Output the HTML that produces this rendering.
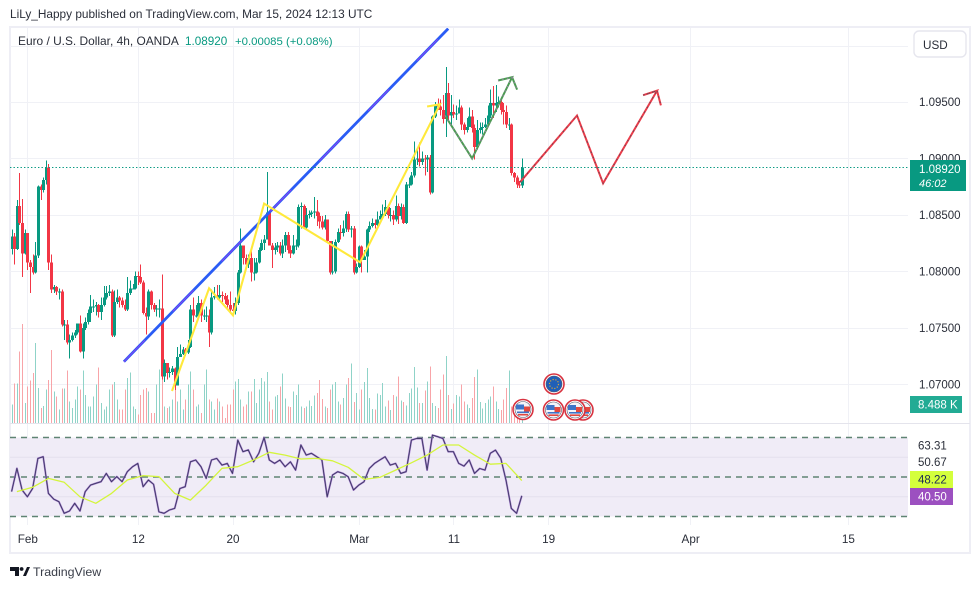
<!DOCTYPE html>
<html>
<head>
<meta charset="utf-8">
<title>EUR/USD chart</title>
<style>
html,body{margin:0;padding:0;background:#fff;}
svg{display:block;}
text{font-family:"Liberation Sans",sans-serif;}
</style>
</head>
<body>
<svg id="chart" xmlns="http://www.w3.org/2000/svg" width="980" height="589" viewBox="0 0 980 589">
  <defs>
    <clipPath id="pane"><rect x="10" y="28" width="898" height="396"/></clipPath>
    <g id="us-flag">
      <circle r="10" fill="#fff" stroke="#d8323f" stroke-width="1.6"/>
      <circle r="8" fill="#f4f4f8" stroke="#556" stroke-width="0.6"/>
      <rect x="-7" y="-5" width="8" height="5" fill="#3d74c8"/>
      <rect x="1" y="-3" width="6" height="5" fill="#e2483f"/>
      <rect x="-6" y="2" width="12" height="1.6" fill="#3d74c8"/>
      <rect x="-5" y="4.4" width="10" height="1.6" fill="#e2483f"/>
    </g>
    <g id="eu-flag">
      <circle r="10" fill="#fff" stroke="#d8323f" stroke-width="1.6"/>
      <circle r="8" fill="#1f5fb8" stroke="#556" stroke-width="0.6"/>
      <circle r="4.5" fill="none" stroke="#d9a53a" stroke-width="1.2" stroke-dasharray="1.2 1.6"/>
    </g>
  </defs>

  <text x="10" y="18" font-size="11.83" fill="#2a2e39">LiLy_Happy published on TradingView.com, Mar 15, 2024 12:13 UTC</text>

  <rect x="10" y="27" width="960" height="526" fill="#fff" stroke="#eeeef5" stroke-width="2"/>

  <g id="grid"></g>
  <line x1="10" y1="423.5" x2="970" y2="423.5" stroke="#e4e4ec" stroke-width="1"/>

  <g id="volumes" shape-rendering="crispEdges"></g>
  <g id="candles" shape-rendering="crispEdges"></g>
  <g id="drawings" clip-path="url(#pane)"></g>
  <line id="last-price-line" stroke="#089981" stroke-width="1" stroke-dasharray="1.4 2.1"/>

  <g>
    <use href="#us-flag" transform="translate(523,409.5)"/>
    <use href="#eu-flag" transform="translate(554,384)"/>
    <use href="#us-flag" transform="translate(583,410)"/>
    <use href="#us-flag" transform="translate(553.5,410)"/>
    <use href="#us-flag" transform="translate(575,410)"/>
  </g>

  <g id="rsi-pane"></g>

  <g id="price-axis"></g>
  <g id="time-axis"></g>

  <g>
    <text x="18" y="45" font-size="11.92" fill="#2a2e39">Euro / U.S. Dollar, 4h, OANDA</text>
    <text x="185" y="45" font-size="11.7" fill="#089981">1.08920</text>
    <text x="235" y="45" font-size="11.4" fill="#089981">+0.00085 (+0.08%)</text>
  </g>

  <g>
    <rect x="914" y="31" width="52" height="26" rx="5" fill="#fff" stroke="#e6e6ee" stroke-width="1.4"/>
    <text x="923" y="49" font-size="11.7" fill="#2a2e39">USD</text>
  </g>

  <g>
    <rect x="910" y="160" width="56" height="31" fill="#089981"/>
    <text x="919" y="173" font-size="11.5" fill="#fff">1.08920</text>
    <text x="919" y="187" font-size="11" font-style="italic" fill="#fff">46:02</text>
  </g>
  <g>
    <rect x="910" y="396" width="52" height="17" fill="#22ab94"/>
    <text x="918" y="408.5" font-size="11.5" fill="#fff">8.488 K</text>
  </g>
  <g>
    <text x="918" y="449.5" font-size="11.5" fill="#2a2e39">63.31</text>
    <text x="918" y="466" font-size="11.5" fill="#2a2e39">50.67</text>
    <rect x="910" y="471" width="43" height="17" fill="#d4ff3c"/>
    <text x="918" y="483.5" font-size="11.5" fill="#1a2a55">48.22</text>
    <rect x="910" y="488" width="43" height="17" fill="#9c50c0"/>
    <text x="918" y="500.5" font-size="11.5" fill="#fff">40.50</text>
  </g>

  <g>
    <path d="M10 567h9v9h-4v-5h-5z M23 576l4-9h3l-4 9z" fill="#131722"/>
    <circle cx="21.6" cy="569" r="1.9" fill="#131722"/>
    <text x="33" y="576" font-size="12.4" fill="#3a3e49">TradingView</text>
  </g>
</svg>

<script>
var closes = [1.0831,1.0820,1.0858,1.0843,1.0816,1.0834,1.0808,1.0804,1.0799,1.0814,1.0875,1.0872,1.0881,1.0892,1.0808,1.0784,1.0786,1.0782,1.0782,1.0753,
1.0753,1.0737,1.0739,1.0743,1.0746,1.0754,1.0729,1.0750,1.0755,1.0763,1.0769,1.0769,1.0770,1.0764,1.0770,1.0777,1.0781,1.0782,1.0743,1.0773,
1.0777,1.0774,1.0770,1.0766,1.0781,1.0785,1.0785,1.0796,1.0795,1.0790,1.0763,1.0760,1.0782,1.0770,1.0766,1.0767,1.0767,1.0707,1.0719,1.0710,
1.0711,1.0714,1.0699,1.0724,1.0727,1.0731,1.0728,1.0733,1.0766,1.0761,1.0761,1.0772,1.0761,1.0761,1.0761,1.0746,1.0777,1.0778,1.0777,1.0779,
1.0778,1.0775,1.0770,1.0766,1.0765,1.0772,1.0799,1.0823,1.0812,1.0806,1.0812,1.0799,1.0799,1.0808,1.0819,1.0825,1.0828,1.0852,1.0823,1.0819,
1.0821,1.0823,1.0816,1.0823,1.0832,1.0819,1.0816,1.0823,1.0823,1.0857,1.0858,1.0839,1.0850,1.0851,1.0852,1.0853,1.0849,1.0844,1.0839,1.0846,
1.0827,1.0799,1.0800,1.0826,1.0835,1.0834,1.0838,1.0851,1.0837,1.0838,1.0799,1.0804,1.0822,1.0810,1.0813,1.0837,1.0840,1.0843,1.0841,1.0846,
1.0849,1.0851,1.0857,1.0850,1.0850,1.0846,1.0858,1.0849,1.0857,1.0843,1.0877,1.0877,1.0885,1.0899,1.0900,1.0897,1.0900,1.0899,1.0901,1.0870,
1.0937,1.0948,1.0946,1.0943,1.0935,1.0958,1.0938,1.0941,1.0939,1.0940,1.0945,1.0930,1.0925,1.0928,1.0937,1.0927,1.0910,1.0925,1.0927,1.0928,
1.0930,1.0938,1.0949,1.0947,1.0949,1.0950,1.0943,1.0941,1.0930,1.0930,1.0887,1.0883,1.0877,1.0876,1.0892];
var highs = [1.0837,1.0834,1.0863,1.0887,1.0864,1.0837,1.0834,1.0810,1.0815,1.0826,1.0876,1.0877,1.0883,1.0898,1.0895,1.0815,1.0788,1.0787,1.0785,1.0784,
1.0757,1.0757,1.0744,1.0746,1.0748,1.0754,1.0761,1.0754,1.0759,1.0766,1.0779,1.0775,1.0773,1.0771,1.0777,1.0787,1.0787,1.0788,1.0784,1.0783,
1.0784,1.0778,1.0777,1.0775,1.0795,1.0792,1.0789,1.0800,1.0800,1.0806,1.0792,1.0768,1.0784,1.0783,1.0772,1.0770,1.0775,1.0797,1.0722,1.0717,
1.0715,1.0716,1.0715,1.0733,1.0735,1.0733,1.0732,1.0739,1.0770,1.0777,1.0770,1.0778,1.0775,1.0766,1.0769,1.0766,1.0784,1.0786,1.0788,1.0788,
1.0782,1.0781,1.0779,1.0782,1.0772,1.0777,1.0801,1.0838,1.0823,1.0815,1.0815,1.0819,1.0812,1.0812,1.0821,1.0828,1.0832,1.0888,1.0853,1.0825,
1.0825,1.0826,1.0826,1.0828,1.0835,1.0835,1.0823,1.0832,1.0828,1.0859,1.0861,1.0859,1.0856,1.0854,1.0854,1.0866,1.0863,1.0852,1.0849,1.0850,
1.0846,1.0827,1.0827,1.0828,1.0838,1.0841,1.0845,1.0853,1.0853,1.0840,1.0840,1.0807,1.0823,1.0823,1.0819,1.0838,1.0844,1.0847,1.0846,1.0853,
1.0854,1.0859,1.0863,1.0859,1.0856,1.0854,1.0867,1.0860,1.0860,1.0859,1.0879,1.0883,1.0888,1.0915,1.0908,1.0914,1.0906,1.0903,1.0903,1.0903,
1.0938,1.0950,1.0953,1.0952,1.0956,1.0981,1.0967,1.0956,1.0948,1.0947,1.0952,1.0947,1.0932,1.0936,1.0945,1.0943,1.0930,1.0934,1.0932,1.0932,
1.0936,1.0947,1.0961,1.0964,1.0965,1.0955,1.0952,1.0949,1.0947,1.0936,1.0931,1.0888,1.0885,1.0880,1.0900];
var lows = [1.0815,1.0806,1.0819,1.0841,1.0795,1.0815,1.0801,1.0781,1.0797,1.0798,1.0812,1.0863,1.0870,1.0877,1.0801,1.0781,1.0781,1.0779,1.0775,1.0751,
1.0739,1.0735,1.0723,1.0738,1.0741,1.0744,1.0728,1.0723,1.0748,1.0753,1.0755,1.0764,1.0761,1.0759,1.0757,1.0769,1.0775,1.0778,1.0742,1.0742,
1.0771,1.0768,1.0768,1.0765,1.0765,1.0779,1.0784,1.0784,1.0788,1.0789,1.0762,1.0744,1.0757,1.0766,1.0764,1.0760,1.0759,1.0704,1.0702,1.0704,
1.0706,1.0708,1.0695,1.0699,1.0725,1.0726,1.0725,1.0727,1.0732,1.0755,1.0759,1.0759,1.0755,1.0757,1.0755,1.0733,1.0744,1.0775,1.0775,1.0775,
1.0773,1.0771,1.0768,1.0764,1.0761,1.0762,1.0770,1.0798,1.0806,1.0803,1.0803,1.0791,1.0792,1.0798,1.0807,1.0818,1.0819,1.0828,1.0823,1.0803,
1.0815,1.0817,1.0814,1.0812,1.0817,1.0816,1.0812,1.0815,1.0819,1.0821,1.0838,1.0838,1.0838,1.0847,1.0848,1.0847,1.0840,1.0838,1.0837,1.0837,
1.0825,1.0797,1.0797,1.0798,1.0825,1.0828,1.0831,1.0835,1.0835,1.0830,1.0797,1.0798,1.0803,1.0799,1.0810,1.0799,1.0835,1.0839,1.0838,1.0840,
1.0846,1.0847,1.0849,1.0847,1.0844,1.0841,1.0844,1.0842,1.0846,1.0842,1.0842,1.0874,1.0876,1.0883,1.0894,1.0893,1.0894,1.0885,1.0888,1.0868,
1.0869,1.0936,1.0943,1.0938,1.0931,1.0919,1.0934,1.0930,1.0936,1.0934,1.0941,1.0925,1.0921,1.0923,1.0934,1.0923,1.0899,1.0908,1.0922,1.0921,
1.0927,1.0930,1.0936,1.0936,1.0941,1.0945,1.0939,1.0930,1.0927,1.0925,1.0885,1.0879,1.0874,1.0874,1.0874];
var firstOpen = 1.0820;

var volumesK = [8.2,17.6,17.6,32,44.3,8.9,16.4,19,22.3,35.7,15.6,6.7,7.7,14.9,19.3,32.7,14.1,11.9,6,15.3,
15.3,23.4,9.7,6.7,10.4,16.4,14.9,23.4,12.6,7.4,7.4,11.9,17.1,24.7,8.9,6,7.4,14.9,17.1,18.2,
10.4,6,6,14.9,20.1,22.6,7.4,6.3,3.7,12.6,14.9,15.6,14.1,4.5,4.5,17.1,23.8,23.8,7.4,6.7,
7.4,10.4,22.3,9.7,14.9,6,10.4,17.1,23.1,14.9,7.4,8.2,4.5,17.1,23.8,10.4,9.7,6,10.9,9.7,
7.4,2.2,8.2,8.2,14.9,18.6,19.6,10.4,7.4,8.2,14.1,14.1,19.6,8.9,14.9,20.1,18.6,22.8,9.7,6,
11.9,12.6,16.4,22,10.9,7.4,7.1,14.1,12.6,17.1,7.4,6.7,7.4,10,7.7,12.2,13.4,19.3,10.7,7.4,
6.7,14.9,17.1,18.3,9.7,8.2,11.2,17.1,20.1,26.5,9.4,13.4,6,14.9,18.3,24.6,11.2,6.3,6,13.1,
12.6,17.9,7.4,10,5.7,12.6,11.9,20.8,10.1,9.4,7.9,13.4,15.3,25,15.9,8.9,8.9,14.4,18.6,25.3,
8.9,7.7,6.7,14.9,21.6,29.8,12.6,6.3,8.6,12.6,11.9,17.1,9.7,8.2,6.7,11.2,20.5,23.8,9.4,6.4,
8.9,10.4,11.9,16.4,9.7,6.3,5.7,10.4,15.6,23.4,7.4,9,7,6,8.488];

// RSI read every second bar, its moving average every sixth bar
var rsiValues = [42.6,54.4,43.4,40,44.2,59.4,60.3,41.7,38.8,37.5,31.6,32.8,36.7,32.8,42.6,45.9,46.8,47.6,51.8,47.6,
50.2,47.6,52.7,55.2,56.9,45.1,48.5,46.3,32.4,31.6,33.3,34.1,44.2,45.1,57.7,58.6,55.2,49.3,58.6,59.4,
56,56.9,51.8,68.7,62.8,63.7,57.7,62,70,58.6,56.9,58.6,55.2,57.7,53.5,66.2,61.1,62,60.3,
58.6,40,51,52.7,51.8,50.1,43.4,45.9,47.6,54.3,56.9,58.6,60.3,56,56.9,51.8,52.7,68.7,69.5,69.5,
53.5,71.2,70.4,69.5,62.8,62.8,56.9,55.5,58.6,51.8,54.3,53.5,62,63.6,59.4,48.4,34.1,31.6,40.5];
var rsiMaValues = [42.6,44.8,49.3,47.3,40,36.7,41.7,48.5,50.7,50.2,41.7,38.3,45.9,54.4,55.2,58.6,62.5,61.1,59.1,59.4,
58.2,54.9,48.8,49.8,53.5,57.2,61.1,66.2,66.2,61.1,56.5,56.9,48.2];
var rsiBarStep = 2;
var rsiMaBarStep = 6;
var rsiMaFirstBar = 2;
var rsiLevels = [70,50,30];
var rsiGridLevels = [60,40];

var priceTicks = [1.095,1.09,1.085,1.08,1.075,1.07];
var priceGridLevels = [1.1,1.095,1.09,1.085,1.08,1.075,1.07];
var timeLabels = ["Feb","12","20","Mar","11","19","Apr","15"];
var timeBars = [6,48,84,132,168,204,258,318];
var lastPrice = 1.0892;

// Drawings anchored as [bar index] and [price]
var trendBars = [42.7,166];
var trendPrices = [1.0720,1.1015];
var yellowBars = [61,75.1,84.2,96,132.5,162.9,158];
var yellowPrices = [1.0694,1.0785,1.0761,1.0860,1.0808,1.0948,1.0946];
var greenBars = [164.8,175.1,190.3,185,190.3,192.2];
var greenPrices = [1.0938,1.0900,1.0972,1.0969,1.0972,1.0961];
var redBars = [193.3,215,224.9,245.4,240.1,245.4,246.9];
var redPrices = [1.0879,1.0938,1.0878,1.0960,1.0956,1.0960,1.0947];

var NS = 'http://www.w3.org/2000/svg';
function xOfBar(i){ return 11.6 + 2.63 * i; }
function yOfPrice(p){ return 102 + (1.095 - p) * 11290; }
function yOfVolume(v){ return 423 - 2.24 * v; }
function yOfRsi(r){ return 477 - (r - 50) * 1.975; }
function make(tag, parent){
  var el = document.createElementNS(NS, tag);
  parent.appendChild(el);
  return el;
}
function setAll(el, attrs){
  for (var k in attrs) el.setAttribute(k, attrs[k]);
}
function pointString(bars, vals, yFn){
  return bars.map(function(b, i){ return xOfBar(b).toFixed(1) + ',' + yFn(vals[i]).toFixed(1); }).join(' ');
}

var grid = document.getElementById('grid');
priceGridLevels.forEach(function(p){
  var l = make('line', grid);
  
  
  var gy = Math.round(yOfPrice(p)) + 0.5;
  setAll(l, {x1:10, x2:908, y1:gy, y2:gy, stroke:'#f0f1f6', 'stroke-width':1});
});
timeBars.forEach(function(b){
  var l = make('line', grid);
  
  
  var gx = Math.round(xOfBar(b)) + 0.5;
  setAll(l, {x1:gx, x2:gx, y1:28, y2:525, stroke:'#f0f1f6', 'stroke-width':1});
});

var volG = document.getElementById('volumes');
var candleG = document.getElementById('candles');
closes.forEach(function(c, i){
  var o = i === 0 ? firstOpen : closes[i - 1];
  var up = c >= o;
  var x = xOfBar(i);

  var v = make('rect', volG);
  
  
  var vy = yOfVolume(volumesK[i]);
  setAll(v, {x:Math.round(x), y:vy, width:1, height:Math.max(0, 423 - vy), fill: up ? '#8fd3c8' : '#f8a4a8'});

  var w = make('rect', candleG);
  
  
  setAll(w, {x:Math.round(x), y:yOfPrice(highs[i]), width:1, height:yOfPrice(lows[i]) - yOfPrice(highs[i]), fill: up ? '#089981' : '#f23645'});

  var b = make('rect', candleG);
  
  
  var top = Math.min(yOfPrice(o), yOfPrice(c));
  var h = Math.max(1, Math.abs(yOfPrice(o) - yOfPrice(c)));
  setAll(b, {x:Math.round(x) - 1, y:top, width:3, height:h, fill: up ? '#089981' : '#f23645'});
});

var dr = document.getElementById('drawings');
var trendBlue = make('polyline', dr);


setAll(trendBlue, {points:pointString(trendBars, trendPrices, yOfPrice), fill:'none', stroke:'#2a5cf5', 'stroke-width':2.8});
var trendMagenta = make('polyline', dr);


setAll(trendMagenta, {points:pointString(trendBars, trendPrices, yOfPrice), fill:'none', stroke:'#d030f0', 'stroke-width':0.7, 'stroke-dasharray':'30 40', 'stroke-opacity':0.8});
var yellow = make('polyline', dr);


setAll(yellow, {points:pointString(yellowBars, yellowPrices, yOfPrice), fill:'none', stroke:'#ffe93b', 'stroke-width':2.1, 'stroke-linejoin':'miter'});
var green = make('polyline', dr);


setAll(green, {points:pointString(greenBars, greenPrices, yOfPrice), fill:'none', stroke:'#4b9c52', 'stroke-width':2});
var greenFleck = make('polyline', dr);


setAll(greenFleck, {points:pointString(greenBars, greenPrices, yOfPrice), fill:'none', stroke:'#9a7fa8', 'stroke-width':1, 'stroke-dasharray':'1.5 3.5'});
var red = make('polyline', dr);


setAll(red, {points:pointString(redBars, redPrices, yOfPrice), fill:'none', stroke:'#ea3c4a', 'stroke-width':2});
var redFleck = make('polyline', dr);


setAll(redFleck, {points:pointString(redBars, redPrices, yOfPrice), fill:'none', stroke:'#5a4a58', 'stroke-width':0.9, 'stroke-dasharray':'1.5 4'});

var lastLine = document.getElementById('last-price-line');
var lastY = Math.round(yOfPrice(lastPrice)) + 0.5;
setAll(lastLine, {x1:10, x2:908, y1:lastY, y2:lastY});

var rsiG = document.getElementById('rsi-pane');
var band = make('rect', rsiG);


setAll(band, {x:10, y:yOfRsi(rsiLevels[0]), width:898, height:yOfRsi(rsiLevels[2]) - yOfRsi(rsiLevels[0]), fill:'#f0ecf7'});
rsiGridLevels.forEach(function(r){
  var l = make('line', rsiG);
  
  
  setAll(l, {x1:10, x2:908, y1:yOfRsi(r), y2:yOfRsi(r), stroke:'#e4e0ee', 'stroke-width':1});
});
rsiLevels.forEach(function(r){
  var l = make('line', rsiG);
  
  
  setAll(l, {x1:10, x2:908, y1:yOfRsi(r), y2:yOfRsi(r), stroke:'#5f8473', 'stroke-width':1.4, 'stroke-dasharray':'6 5'});
});
var rsiBars = rsiValues.map(function(v, i){ return i * rsiBarStep; });
var rsiHalo = make('polyline', rsiG);


setAll(rsiHalo, {points:pointString(rsiBars, rsiValues, yOfRsi), fill:'none', stroke:'#a77fd0', 'stroke-width':1.9, 'stroke-linejoin':'round'});
var rsiLine = make('polyline', rsiG);


setAll(rsiLine, {points:pointString(rsiBars, rsiValues, yOfRsi), fill:'none', stroke:'#3d3a63', 'stroke-width':0.9, 'stroke-linejoin':'round'});
var maBars = rsiMaValues.map(function(v, i){ return rsiMaFirstBar + i * rsiMaBarStep; });
var maLine = make('polyline', rsiG);


setAll(maLine, {points:pointString(maBars, rsiMaValues, yOfRsi), fill:'none', stroke:'#d4f53c', 'stroke-width':1.3, 'stroke-linejoin':'round'});

var pa = document.getElementById('price-axis');
priceTicks.forEach(function(p){
  var t = make('text', pa);
  
  
  setAll(t, {x:919, y:yOfPrice(p) + 4, 'font-size':11.5, fill:'#2a2e39'});
  t.textContent = p.toFixed(5);
});

var ta = document.getElementById('time-axis');
timeLabels.forEach(function(s, i){
  var t = make('text', ta);
  
  
  setAll(t, {x:xOfBar(timeBars[i]) + 0.5, y:543, 'font-size':11.7, fill:'#2a2e39', 'text-anchor':'middle'});
  t.textContent = s;
});
</script>
</body>
</html>
